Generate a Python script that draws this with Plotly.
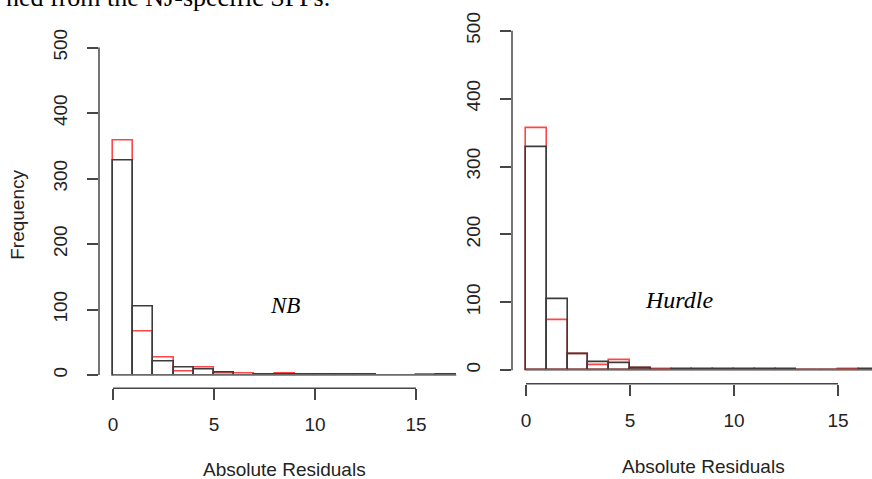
import plotly.graph_objects as go

# ---------------- data ----------------
bin_edges = list(range(0, 18))  # bins of width 1 from 0 to 17
x_ticks = [0, 5, 10, 15]
y_ticks = [0, 100, 200, 300, 400, 500]

nb_black = [328, 104, 21, 12, 8, 4, 0, 1, 1, 1, 1, 1, 1, 0, 0, 0, 1]
nb_red = [358, 67, 27, 6, 12, 2, 2, 0, 3, 0, 0, 0, 0, 0, 0, 1, 0]
hurdle_black = [328, 104, 23, 12, 10, 3, 0, 1, 1, 1, 1, 1, 1, 0, 0, 0, 1]
hurdle_red = [356, 73, 24, 7, 14, 3, 1, 0, 0, 0, 0, 0, 0, 0, 0, 1, 0]

panel_labels = ["NB", "Hurdle"]
x_title = "Absolute Residuals"
y_title = "Frequency"
top_text = "ned from the NJ-specific SPFs."

# ---------------- styling ----------------
W, H = 872, 479
RED = "rgb(255,70,70)"
BLACK = "rgb(60,60,60)"
AXIS = "rgb(70,70,70)"
TXT = "rgb(35,35,35)"
SANS = "Liberation Sans, Arial, sans-serif"
SERIF = "Liberation Serif, Times New Roman, serif"
FS = 19

centers = [(bin_edges[i] + bin_edges[i + 1]) / 2 for i in range(len(bin_edges) - 1)]
widths = [bin_edges[i + 1] - bin_edges[i] for i in range(len(bin_edges) - 1)]


def px_x(p):
    return p / W


def px_y(p):
    return 1 - p / H


fig = go.Figure()


def add_hist(counts, color, xa, ya, name):
    fig.add_trace(go.Bar(
        x=centers, y=counts, width=widths, name=name,
        marker=dict(color="rgba(0,0,0,0)", line=dict(color=color, width=1.6)),
        xaxis=xa, yaxis=ya, showlegend=False, hoverinfo="x+y",
    ))


def add_baseline(xa, ya):
    fig.add_trace(go.Scatter(
        x=[bin_edges[0], bin_edges[-1]], y=[0, 0], mode="lines",
        line=dict(color="rgb(150,150,150)", width=1.2),
        xaxis=xa, yaxis=ya, showlegend=False, hoverinfo="skip",
    ))


add_baseline("x", "y")
add_hist(nb_red, RED, "x", "y", "NB red")
add_hist(nb_black, BLACK, "x", "y", "NB black")
add_baseline("x2", "y2")
add_hist(hurdle_red, RED, "x2", "y2", "Hurdle red")
add_hist(hurdle_black, BLACK, "x2", "y2", "Hurdle black")

# panel geometry (pixels)
L_x0, L_sx = 113, 20.2
R_x0, R_sx = 526, 20.8
yr = [-20, 520]

L_left, L_right = 99, 470
R_left, R_right = 512, 872
L_top, L_bot = 29.8, 387.2
R_top, R_bot = 12.3, 382.7

xr_left = [(L_left - L_x0) / L_sx, (L_right - L_x0) / L_sx]
xr_right = [(R_left - R_x0) / R_sx, (R_right - R_x0) / R_sx]

tickfont = dict(family=SANS, size=FS, color=TXT)
xcommon = dict(tickmode="array", tickvals=x_ticks, ticks="outside", ticklen=11,
               tickwidth=1.5, tickcolor=AXIS, showline=False, showgrid=False,
               zeroline=False, tickfont=tickfont, ticklabelstandoff=8, fixedrange=True)
ycommon = dict(tickmode="array", tickvals=y_ticks, ticks="outside", ticklen=11,
               tickwidth=1.5, tickcolor=AXIS, showline=False, showgrid=False,
               zeroline=False, tickfont=tickfont, tickangle=-90, range=yr,
               ticklabelstandoff=12, fixedrange=True)

fig.update_layout(
    width=W, height=H,
    margin=dict(l=0, r=0, t=0, b=0),
    paper_bgcolor="white", plot_bgcolor="white",
    barmode="overlay", bargap=0,
    xaxis=dict(domain=[px_x(L_left), px_x(L_right)], range=xr_left, anchor="y", **xcommon),
    yaxis=dict(domain=[px_y(L_bot), px_y(L_top)], anchor="x", **ycommon),
    xaxis2=dict(domain=[px_x(R_left), px_x(R_right)], range=xr_right, anchor="y2", **xcommon),
    yaxis2=dict(domain=[px_y(R_bot), px_y(R_top)], anchor="x2", **ycommon),
)

# R-style detached axis lines spanning only the tick range
for xa, ya in (("x", "y"), ("x2", "y2")):
    fig.add_shape(type="line", xref=xa, yref=f"{ya} domain", x0=x_ticks[0], x1=x_ticks[-1],
                  y0=0, y1=0, line=dict(color=AXIS, width=1.5))
    fig.add_shape(type="line", xref=f"{xa} domain", yref=ya, x0=0, x1=0,
                  y0=y_ticks[0], y1=y_ticks[-1], line=dict(color=AXIS, width=1.5))

# axis titles
fig.add_annotation(text=x_title, xref="paper", yref="paper",
                   x=px_x((L_left + L_right) / 2), y=px_y(469), showarrow=False,
                   xanchor="center", yanchor="middle",
                   font=dict(family=SANS, size=FS, color=TXT))
fig.add_annotation(text=x_title, xref="paper", yref="paper",
                   x=px_x((R_left + 894) / 2), y=px_y(466), showarrow=False,
                   xanchor="center", yanchor="middle",
                   font=dict(family=SANS, size=FS, color=TXT))
fig.add_annotation(text=y_title, xref="paper", yref="paper", textangle=-90,
                   x=px_x(18), y=px_y(212), showarrow=False,
                   xanchor="center", yanchor="middle",
                   font=dict(family=SANS, size=FS, color=TXT))

# panel labels
fig.add_annotation(text=f"<i>{panel_labels[0]}</i>", xref="x", yref="y",
                   x=(285 - L_x0) / L_sx, y=(374 - 304) / 0.662, showarrow=False,
                   xanchor="center", yanchor="middle",
                   font=dict(family=SERIF, size=23, color="black"))
fig.add_annotation(text=f"<i>{panel_labels[1]}</i>", xref="x2", yref="y2",
                   x=(679 - R_x0) / R_sx, y=(369 - 298) / 0.686, showarrow=False,
                   xanchor="center", yanchor="middle",
                   font=dict(family=SERIF, size=24, color="black"))

# cropped document text at the very top (its upper half lies outside the picture)
fig.add_annotation(text=top_text, xref="paper", yref="paper",
                   x=px_x(332), y=px_y(9), xanchor="right", yanchor="bottom",
                   showarrow=False, font=dict(family=SERIF, size=26, color="black"))

fig.write_html("out.html", config={"displayModeBar": False},
               post_script="document.body.style.margin='0';")
